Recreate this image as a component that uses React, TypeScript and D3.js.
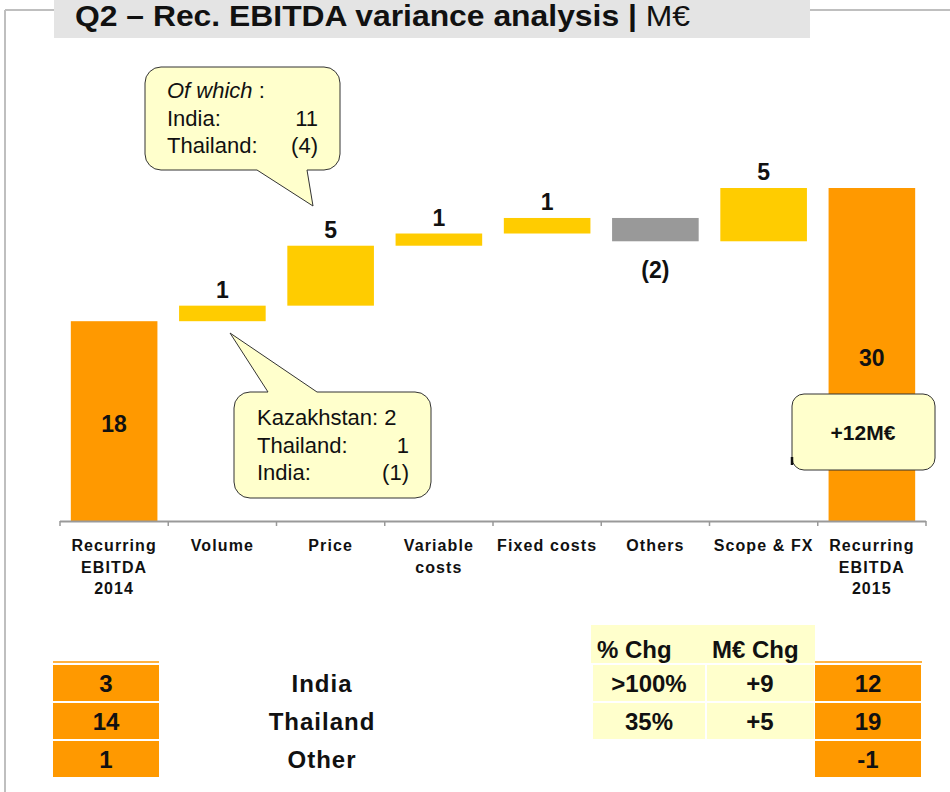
import React from "react";
import * as d3 from "d3";

const categories: string[][] = [
  ["Recurring", "EBITDA", "2014"],
  ["Volume"],
  ["Price"],
  ["Variable", "costs"],
  ["Fixed costs"],
  ["Others"],
  ["Scope & FX"],
  ["Recurring", "EBITDA", "2015"],
];
const kinds = ["total", "delta", "delta", "delta", "delta", "delta", "delta", "total"];
const values = [18, 1.4, 5.4, 1.1, 1.4, -2.1, 4.8, 30];
const valueLabels = ["18", "1", "5", "1", "1", "(2)", "5", "30"];
const barColors = ["#FF9900", "#FFCC00", "#FFCC00", "#FFCC00", "#FFCC00", "#999999", "#FFCC00", "#FF9900"];

const priceCallout = [
  ["Of which", ":"],
  ["India:", "11"],
  ["Thailand:", "(4)"],
];
const volumeCallout = [
  ["Kazakhstan: 2", ""],
  ["Thailand:", "1"],
  ["India:", "(1)"],
];
const totalChange = "+12M€";

const countries = ["India", "Thailand", "Other"];
const ebitda2014 = ["3", "14", "1"];
const ebitda2015 = ["12", "19", "-1"];
const pctChg = [">100%", "35%"];
const meurChg = ["+9", "+5"];
const tableHeaders = ["% Chg", "M€ Chg"];

const FONT = "'Liberation Sans', Arial, sans-serif";

function calloutPath(x0: number, y0: number, x1: number, y1: number, r: number,
  side: "top" | "bottom", bx0: number, bx1: number, tx: number, ty: number) {
  const p = d3.path();
  p.moveTo(x0 + r, y0);
  if (side === "top") {
    p.lineTo(bx0, y0);
    p.lineTo(tx, ty);
    p.lineTo(bx1, y0);
  }
  p.lineTo(x1 - r, y0);
  p.arcTo(x1, y0, x1, y0 + r, r);
  p.lineTo(x1, y1 - r);
  p.arcTo(x1, y1, x1 - r, y1, r);
  if (side === "bottom") {
    p.lineTo(bx1, y1);
    p.lineTo(tx, ty);
    p.lineTo(bx0, y1);
  }
  p.lineTo(x0 + r, y1);
  p.arcTo(x0, y1, x0, y1 - r, r);
  p.lineTo(x0, y0 + r);
  p.arcTo(x0, y0, x0 + r, y0, r);
  p.closePath();
  return p.toString();
}

export default function App() {
  const W = 950, H = 792;
  const x = d3.scaleBand<number>()
    .domain(d3.range(categories.length))
    .range([60, 926])
    .paddingInner(0.2)
    .paddingOuter(0.1);
  const y = d3.scaleLinear().domain([0, 30]).range([521, 188]);

  let cum = 0;
  const bars = values.map((v, i) => {
    let lo: number, hi: number;
    if (kinds[i] === "total") {
      lo = 0; hi = v; cum = v;
    } else {
      const start = cum;
      cum = cum + v;
      lo = Math.min(start, cum); hi = Math.max(start, cum);
    }
    return { i, v, lo, hi };
  });

  const step = x.step();
  const bounds = d3.range(categories.length + 1).map(i => 60 + i * step);

  const rowCenters = [683, 721, 759];
  const rowH = 36;

  return (
    <svg width={W} height={H} style={{ position: "absolute", left: 0, top: 0, background: "#fff" }}
      fontFamily={FONT}>
      {/* frame */}
      <line x1={5} y1={10} x2={5} y2={H} stroke="#BFBFBF" strokeWidth={2} />
      <line x1={5} y1={10} x2={56} y2={10} stroke="#BFBFBF" strokeWidth={2} />
      <line x1={808} y1={10} x2={W} y2={10} stroke="#BFBFBF" strokeWidth={2} />
      {/* title */}
      <rect x={54} y={0} width={756} height={38} fill="#E4E4E4" />
      <text x={75} y={26} fontSize={29} fontWeight="bold" fill="#111" textLength={615} lengthAdjust="spacingAndGlyphs">
        Q2 – Rec. EBITDA variance analysis | <tspan fontWeight="normal">M€</tspan>
      </text>

      {/* bars */}
      {bars.map(b => (
        <rect key={b.i} x={x(b.i)} y={y(b.hi)} width={x.bandwidth()} height={y(b.lo) - y(b.hi)} fill={barColors[b.i]} />
      ))}
      {/* value labels */}
      {bars.map(b => {
        const cx = (x(b.i) as number) + x.bandwidth() / 2;
        let ty: number;
        if (kinds[b.i] === "total") ty = (y(b.hi) + y(b.lo)) / 2 + 11;
        else if (b.v >= 0) ty = y(b.hi) - 8;
        else ty = y(b.lo) + 37;
        return (
          <text key={b.i} x={cx} y={ty} textAnchor="middle" fontSize={23} fontWeight="bold" fill="#111">
            {valueLabels[b.i]}
          </text>
        );
      })}

      {/* axis */}
      <line x1={bounds[0]} y1={521.5} x2={bounds[bounds.length - 1]} y2={521.5} stroke="#999" strokeWidth={2} />
      {bounds.map((bx, i) => (
        <line key={i} x1={bx} y1={521} x2={bx} y2={526} stroke="#999" strokeWidth={1.5} />
      ))}
      {categories.map((lines, i) => {
        const cx = (x(i) as number) + x.bandwidth() / 2;
        return (
          <text key={i} x={cx} y={551} textAnchor="middle" fontSize={16} fontWeight="bold" fill="#111" letterSpacing={1.1}>
            {lines.map((l, j) => (
              <tspan key={j} x={cx} dy={j === 0 ? 0 : 21.5}>{l}</tspan>
            ))}
          </text>
        );
      })}

      {/* price callout */}
      <path d={calloutPath(145, 67, 340, 170, 16, "bottom", 257, 307, 313, 206)} fill="#FFFFCC" stroke="#333" strokeWidth={1} />
      {priceCallout.map((row, j) => (
        <g key={j} fontSize={22} fill="#111">
          <text x={167} y={98 + j * 27.5} fontStyle={j === 0 ? "italic" : "normal"}>{row[0]}{j === 0 ? <tspan fontStyle="normal"> {row[1]}</tspan> : null}</text>
          {j > 0 && <text x={318} y={98 + j * 27.5} textAnchor="end">{row[1]}</text>}
        </g>
      ))}

      {/* volume callout */}
      <path d={calloutPath(234, 392, 431, 498, 16, "top", 268, 317, 230, 333)} fill="#FFFFCC" stroke="#333" strokeWidth={1} />
      {volumeCallout.map((row, j) => (
        <g key={j} fontSize={22} fill="#111">
          <text x={257} y={425 + j * 27.5}>{row[0]}</text>
          {row[1] && <text x={409} y={425 + j * 27.5} textAnchor="end">{row[1]}</text>}
        </g>
      ))}

      {/* total change box */}
      <rect x={792} y={394} width={143} height={76} rx={12} fill="#FFFFCC" stroke="#333" strokeWidth={1} />
      <line x1={792} y1={457} x2={792} y2={465} stroke="#111" strokeWidth={2.5} />
      <text x={863} y={440} textAnchor="middle" fontSize={21} fontWeight="bold" fill="#111">{totalChange}</text>

      {/* bottom table */}
      <line x1={53} y1={662} x2={159} y2={662} stroke="#FF9900" strokeWidth={1.5} />
      <line x1={815} y1={662} x2={922} y2={662} stroke="#FF9900" strokeWidth={1.5} />
      <rect x={591} y={625} width={224} height={38} fill="#FFFFCC" />
      <text x={597} y={658} fontSize={24} fontWeight="bold" fill="#111">{tableHeaders[0]}</text>
      <text x={712} y={658} fontSize={24} fontWeight="bold" fill="#111">{tableHeaders[1]}</text>
      {countries.map((c, j) => {
        const cy = rowCenters[j];
        return (
          <g key={c}>
            <rect x={53} y={cy - rowH / 2} width={106} height={rowH} fill="#FF9900" />
            <text x={106} y={cy + 9} textAnchor="middle" fontSize={24} fontWeight="bold" fill="#111">{ebitda2014[j]}</text>
            <text x={322} y={cy + 9} textAnchor="middle" fontSize={24} fontWeight="bold" fill="#111" letterSpacing={1}>{c}</text>
            {j < pctChg.length && (
              <g>
                <rect x={593} y={cy - rowH / 2} width={112} height={rowH} fill="#FFFFCC" />
                <rect x={707} y={cy - rowH / 2} width={107} height={rowH} fill="#FFFFCC" />
                <text x={649} y={cy + 9} textAnchor="middle" fontSize={24} fontWeight="bold" fill="#111">{pctChg[j]}</text>
                <text x={760} y={cy + 9} textAnchor="middle" fontSize={24} fontWeight="bold" fill="#111">{meurChg[j]}</text>
              </g>
            )}
            <rect x={815} y={cy - rowH / 2} width={106} height={rowH} fill="#FF9900" />
            <text x={868} y={cy + 9} textAnchor="middle" fontSize={24} fontWeight="bold" fill="#111">{ebitda2015[j]}</text>
          </g>
        );
      })}
    </svg>
  );
}
